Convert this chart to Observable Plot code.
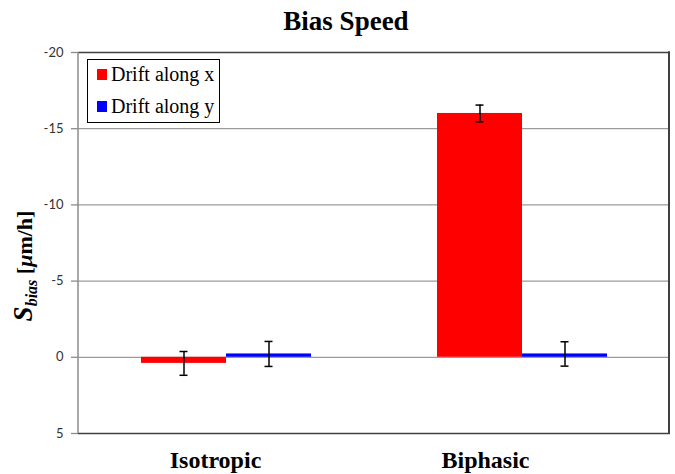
<!DOCTYPE html>
<html>
<head>
<meta charset="utf-8">
<script src="https://cdn.jsdelivr.net/npm/d3@7"></script>
<script src="https://cdn.jsdelivr.net/npm/@observablehq/plot@0.6"></script>
<style>
  body { margin: 0; background: #fff; }
  #chart { position: relative; width: 675px; height: 474px; overflow: hidden; }
  #title {
    position: absolute; left: 346px; top: 6px; transform: translateX(-50%);
    font-family: "Liberation Serif", "Times New Roman", serif; font-weight: bold;
    font-size: 27px; white-space: nowrap; color: #000;
  }
  #plot { position: absolute; left: 0; top: 40px; }
  #legend {
    position: absolute; left: 87px; top: 59px; width: 131px; height: 62px;
    border: 1.5px solid #000; background: #fff; box-sizing: content-box;
    font-family: "Liberation Serif", "Times New Roman", serif; font-size: 20px; color: #000;
  }
  .entry { position: absolute; left: 9px; display: flex; align-items: center; white-space: nowrap; }
  .swatch { width: 10px; height: 11px; margin-right: 4px; }
</style>
</head>
<body>
<div id="chart">
  <div id="title">Bias Speed</div>
  <div id="plot"></div>
  <div id="legend"></div>
</div>
<script>
// Bias speed per condition, split by drift direction (µm/h); upward = more negative
const categories = ["Isotropic", "Biphasic"];
const series = ["Drift along x", "Drift along y"];
const colors = ["#ff0000", "#0000ff"];
const speedX = [0.4, -16.0];
const speedY = [-0.22, -0.22];
const errorX = [0.78, 0.55];
const errorY = [0.82, 0.8];
const yTicks = [-20, -15, -10, -5, 0, 5];

const rows = [];
categories.forEach((c, i) => {
  rows.push({category: c, series: series[0], value: speedX[i], error: errorX[i]});
  rows.push({category: c, series: series[1], value: speedY[i], error: errorY[i]});
});

const lo = d => d.value - d.error;
const hi = d => d.value + d.error;

const W = 675, H = 434, mT = 12, mB = 41, mL = 78, mR = 5;

const catAxis = (tick, dx) => Plot.axisFx({
  anchor: "bottom", ticks: [tick], dx, tickSize: 0, tickPadding: 17, fontSize: 24, fontWeight: "bold",
  fontFamily: "'Liberation Serif', 'Times New Roman', serif", fill: "#000", label: null
});

const plot = Plot.plot({
  width: W,
  height: H,
  marginTop: mT,
  marginBottom: mB,
  marginLeft: mL,
  marginRight: mR,
  style: {background: "transparent"},
  fx: {domain: categories, padding: 0, label: null},
  x: {domain: series, paddingInner: 0, paddingOuter: 0.74, axis: null},
  y: {domain: [5, -20], label: null},
  color: {domain: series, range: colors},
  marks: [
    Plot.gridY([-15, -10, -5, 0], {stroke: "#9b9b9b", strokeOpacity: 1, strokeWidth: 1.3}),
    Plot.ruleY([-20, 5], {stroke: "#404040", strokeWidth: 1.6}),
    Plot.barY(rows, {fx: "category", x: "series", y: "value", fill: "series"}),
    Plot.ruleX(rows, {fx: "category", x: "series", y1: lo, y2: hi, stroke: "#000", strokeWidth: 1.5}),
    Plot.tickY(rows, {fx: "category", x: "series", y: lo, stroke: "#000", strokeWidth: 1.5, insetLeft: 38.5, insetRight: 38.5}),
    Plot.tickY(rows, {fx: "category", x: "series", y: hi, stroke: "#000", strokeWidth: 1.5, insetLeft: 38.5, insetRight: 38.5}),
    Plot.axisY({
      anchor: "left", ticks: yTicks, tickFormat: d => String(d), tickSize: 7, tickPadding: 8,
      fontSize: 13, fontFamily: "Lato, 'Open Sans', sans-serif", fill: "#333", stroke: "#8c8c8c",
      strokeWidth: 1.3, label: null
    }),
    catAxis("Isotropic", -11),
    catAxis("Biphasic", -37)
  ]
});
document.getElementById("plot").appendChild(plot);

// Plot frame edges: grey value axis on the left, dark border on the right
const y = plot.scale("y");
const svg = d3.select(plot);
svg.append("line")
  .attr("x1", mL).attr("x2", mL)
  .attr("y1", y.apply(-20)).attr("y2", y.apply(5))
  .attr("stroke", "#8c8c8c").attr("stroke-width", 1.5);
svg.append("line")
  .attr("x1", W - mR - 1).attr("x2", W - mR - 1)
  .attr("y1", y.apply(-20) - 0.8).attr("y2", y.apply(5) + 0.8)
  .attr("stroke", "#404040").attr("stroke-width", 2);

// Rotated y-axis title with italic S and subscript
const ylab = svg.append("text")
  .attr("transform", "translate(32,226) rotate(-90)")
  .attr("text-anchor", "middle")
  .attr("font-family", "'Liberation Serif', 'Times New Roman', serif")
  .attr("font-weight", "bold")
  .attr("font-size", 22)
  .attr("fill", "#000");
ylab.append("tspan").attr("font-style", "italic").attr("font-size", 27).text("S");
ylab.append("tspan").attr("font-style", "italic").attr("font-size", 16).attr("dy", 5).text("bias");
ylab.append("tspan").attr("dy", -5).text(" [");
ylab.append("tspan").attr("font-style", "italic").text("μ");
ylab.append("tspan").text("m/h]");

// Legend built from the series and colours
const legend = d3.select("#legend");
series.forEach((s, i) => {
  const e = legend.append("div").attr("class", "entry").style("top", (3 + i * 32) + "px");
  e.append("div").attr("class", "swatch").style("background", colors[i]);
  e.append("span").text(s);
});
</script>
</body>
</html>
